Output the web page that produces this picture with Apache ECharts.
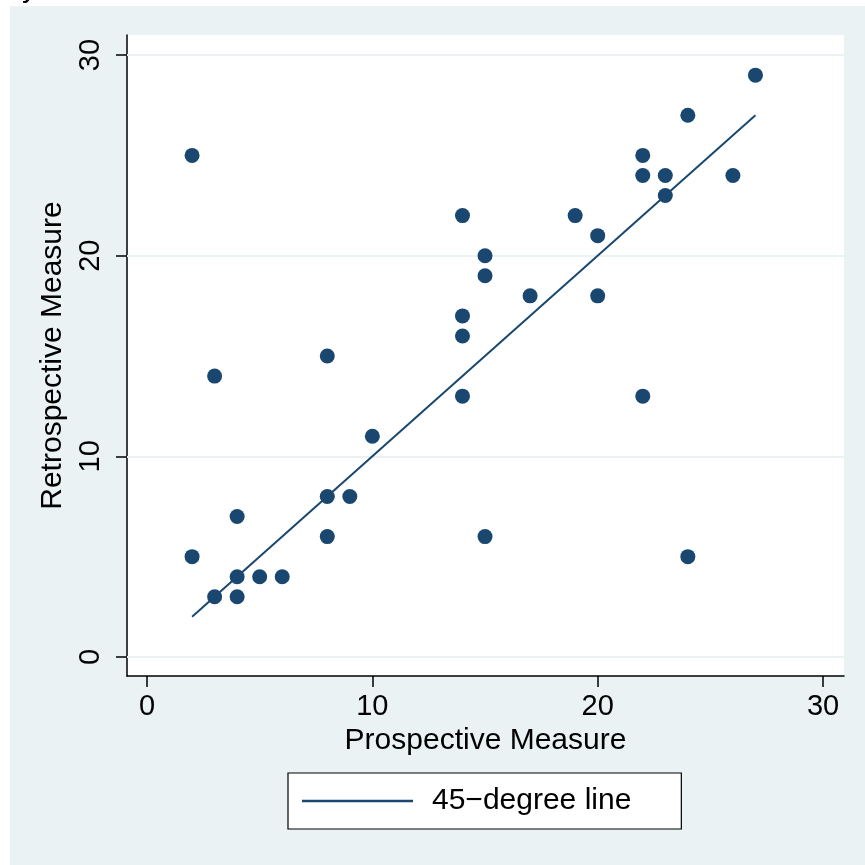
<!DOCTYPE html>
<html>
<head>
<meta charset="utf-8">
<script src="https://cdn.jsdelivr.net/npm/echarts@6/dist/echarts.min.js"></script>
<style>
  html, body { margin: 0; padding: 0; background: #ffffff; }
  #chart { width: 865px; height: 865px; }
</style>
</head>
<body>
<div id="chart"></div>
<script>
// Prospective vs retrospective measures, one point per respondent
const prospective = [2, 2, 3, 3, 4, 4, 4, 5, 6, 8, 8, 8, 9, 10, 14, 14, 14, 14, 15, 15, 15, 17, 19, 20, 20, 22, 22, 22, 23, 23, 24, 24, 26, 27];
const retrospective = [25, 5, 14, 3, 7, 4, 3, 4, 4, 15, 8, 6, 8, 11, 22, 17, 16, 13, 20, 19, 6, 18, 22, 21, 18, 25, 24, 13, 24, 23, 27, 5, 24, 29];

// Reference line y = x over the observed range
const lineX = [2, 27];
const lineY = [2, 27];

// Axis tick values
const xTicks = [0, 10, 20, 30];
const yTicks = [0, 10, 20, 30];

const xTitle = 'Prospective Measure';
const yTitle = 'Retrospective Measure';
const lineLabel = '45\u2212degree line';

const navy = '#1a476f';
const panel = '#eaf2f3';
const font = '"Liberation Sans", Arial, Helvetica, sans-serif';
const fs = 29;
const titleFs = 30;

const points = prospective.map((x, i) => [x, retrospective[i]]);
const linePts = lineX.map((x, i) => [x, lineY[i]]);

const chart = echarts.init(document.getElementById('chart'), null, { renderer: 'canvas' });

chart.setOption({
  backgroundColor: '#ffffff',
  animation: false,
  textStyle: { fontFamily: font },
  graphic: [
    {
      type: 'rect', z: -10, silent: true,
      shape: { x: 10, y: 6, width: 855, height: 859 },
      style: { fill: panel }
    },
    {
      // tail of the heading that sits above the frame
      type: 'text', z: 10, silent: true,
      x: 22, y: 4,
      style: { text: 'y', fontSize: titleFs, fontFamily: font, fill: '#000', verticalAlign: 'bottom' }
    }
  ],
  grid: {
    left: 127, top: 35, right: 21, bottom: 189,
    show: true, backgroundColor: '#ffffff', borderWidth: 0
  },
  legend: {
    data: [{ name: lineLabel, icon: 'rect' }],
    left: 288, top: 773,
    orient: 'horizontal',
    backgroundColor: '#ffffff',
    borderColor: '#000000',
    borderWidth: 1.2,
    borderRadius: 0,
    padding: [13, 50, 13, 14],
    itemWidth: 111,
    itemHeight: 2.5,
    selectedMode: false,
    itemStyle: { color: navy },
    textStyle: { fontSize: titleFs, color: '#000', fontFamily: font, lineHeight: 30, padding: [0, 0, 0, 14] }
  },
  xAxis: {
    type: 'value',
    min: -0.888, max: 30.93,
    name: xTitle,
    nameLocation: 'middle',
    nameGap: 49,
    nameTextStyle: { fontSize: titleFs, color: '#000', fontFamily: font },
    axisLine: { show: true, onZero: false, lineStyle: { color: '#000', width: 1.5 } },
    axisTick: { show: true, length: 11, customValues: xTicks, lineStyle: { color: '#000', width: 1.5 } },
    axisLabel: { show: true, customValues: xTicks, margin: 16, fontSize: fs, color: '#000', fontFamily: font },
    splitLine: { show: false }
  },
  yAxis: {
    type: 'value',
    min: -0.947, max: 31.0,
    name: yTitle,
    nameLocation: 'middle',
    nameGap: 57,
    nameRotate: 90,
    nameTextStyle: { fontSize: titleFs, color: '#000', fontFamily: font },
    axisLine: { show: true, onZero: false, lineStyle: { color: '#000', width: 1.5 } },
    axisTick: { show: true, length: 11, customValues: yTicks, lineStyle: { color: '#000', width: 1.5 } },
    axisLabel: { show: true, customValues: yTicks, rotate: 90, margin: 22, fontSize: fs, color: '#000', fontFamily: font },
    splitLine: { show: false }
  },
  series: [
    {
      // horizontal gridlines at the y ticks
      name: 'grid',
      type: 'line',
      data: [],
      z: 1,
      silent: true,
      markLine: {
        silent: true,
        z: 1,
        symbol: 'none',
        label: { show: false },
        lineStyle: { color: panel, width: 2, type: 'solid' },
        data: yTicks.map(v => ({ yAxis: v }))
      }
    },
    {
      name: 'obs',
      type: 'scatter',
      data: points,
      symbol: 'circle',
      symbolSize: 15,
      z: 3,
      itemStyle: { color: navy, opacity: 1 }
    },
    {
      name: lineLabel,
      type: 'line',
      data: linePts,
      symbol: 'none',
      showSymbol: false,
      z: 4,
      lineStyle: { color: navy, width: 2 },
      itemStyle: { color: navy }
    }
  ]
});
</script>
</body>
</html>
